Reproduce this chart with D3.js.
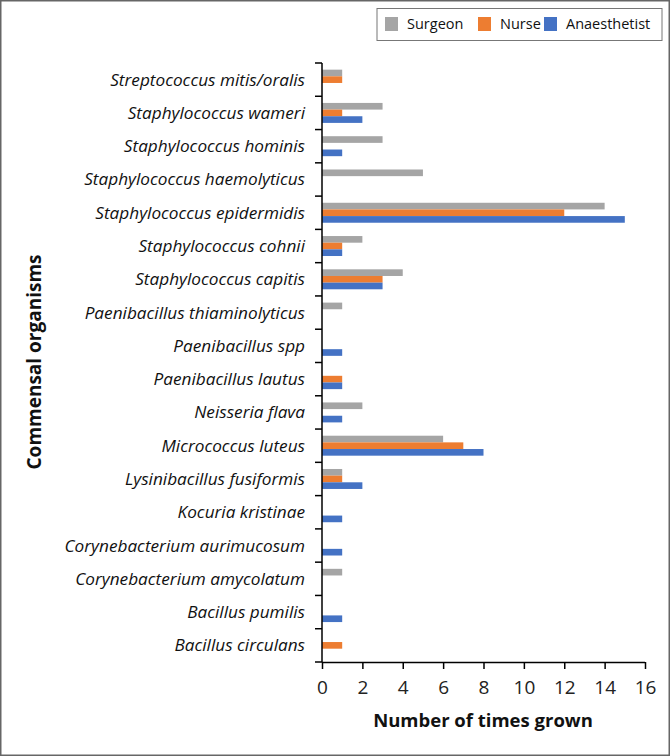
<!DOCTYPE html>
<html><head><meta charset="utf-8">
<script src="https://cdn.jsdelivr.net/npm/d3@7"></script>
<style>body{margin:0;background:#fff}svg{display:block}text{font-family:"Open Sans",sans-serif}</style>
</head><body><svg id="c" width="670" height="756"></svg>
<script>
const categories = ["Streptococcus mitis/oralis","Staphylococcus wameri","Staphylococcus hominis","Staphylococcus haemolyticus","Staphylococcus epidermidis","Staphylococcus cohnii","Staphylococcus capitis","Paenibacillus thiaminolyticus","Paenibacillus spp","Paenibacillus lautus","Neisseria flava","Micrococcus luteus","Lysinibacillus fusiformis","Kocuria kristinae","Corynebacterium aurimucosum","Corynebacterium amycolatum","Bacillus pumilis","Bacillus circulans"];
const surgeon =      [1,3,3,5,14,2,4,1,0,0,2,6,1,0,0,1,0,0];
const nurse =        [1,1,0,0,12,1,3,0,0,1,0,7,1,0,0,0,0,1];
const anaesthetist = [0,2,1,0,15,1,3,0,1,1,1,8,2,1,1,0,1,0];
const seriesNames = ["Surgeon","Nurse","Anaesthetist"];
const seriesColors = ["#A5A5A5","#ED7D31","#4472C4"];
const xTicks = [0,2,4,6,8,10,12,14,16];

(function(){
const svg = d3.select("#c");
svg.append("rect").attr("x",0.75).attr("y",0.75).attr("width",668.5).attr("height",754.5)
  .attr("fill","#fff").attr("stroke","#666").attr("stroke-width",1.5);

const mL = 322, mR = 645, mT = 63, mB = 662;
const x = d3.scaleLinear().domain([0,16]).range([mL,mR]);
const y = d3.scaleBand().domain(categories).range([mT,mB]).paddingInner(0.4).paddingOuter(0.2);
const inner = d3.scaleBand().domain(seriesNames).range([0,y.bandwidth()]);
const series = [surgeon, nurse, anaesthetist];

const g = svg.append("g");
series.forEach((vals,si)=>{
  g.selectAll(null).data(vals.map((v,i)=>({v,c:categories[i]}))).enter().append("rect")
    .attr("x",x(0)).attr("y",d=>y(d.c)+inner(seriesNames[si]))
    .attr("width",d=>x(d.v)-x(0)).attr("height",inner.bandwidth())
    .attr("fill",seriesColors[si]);
});

// y axis
const yBand = d3.scaleBand().domain(categories).range([mT,mB]);
const ya = svg.append("g").attr("transform",`translate(${mL},0)`);
ya.append("line").attr("x1",0).attr("x2",0).attr("y1",mT).attr("y2",mB).attr("stroke","#000").attr("stroke-width",1.5);
const tickYs = categories.map(c=>yBand(c)).concat([mB]);
ya.selectAll(null).data(tickYs).enter().append("line")
  .attr("x1",-7).attr("x2",0).attr("y1",d=>d).attr("y2",d=>d).attr("stroke","#000").attr("stroke-width",1.5);
ya.selectAll(null).data(categories).enter().append("text")
  .attr("x",-17).attr("y",d=>yBand(d)+yBand.bandwidth()/2).attr("dy","0.35em")
  .attr("text-anchor","end").attr("font-style","italic").attr("font-size",17.2).attr("fill","#111").text(d=>d);

// x axis
const xa = svg.append("g").attr("transform",`translate(0,${mB})`)
  .call(d3.axisBottom(x).tickValues(xTicks).tickSize(7).tickPadding(12).tickFormat(d3.format("d")));
xa.select(".domain").attr("stroke","#000").attr("stroke-width",1.5).attr("d",`M${mL},0.5H${mR}`);
xa.selectAll(".tick line").attr("stroke","#000").attr("stroke-width",1.5);
xa.selectAll(".tick text").attr("font-size",19).attr("fill","#222").attr("font-family","'Open Sans',sans-serif");

svg.append("text").attr("x",483).attr("y",727).attr("text-anchor","middle")
  .attr("font-weight","bold").attr("font-size",18.5).attr("fill","#111").text("Number of times grown");
svg.append("text").attr("transform","translate(41,362) rotate(-90)").attr("text-anchor","middle")
  .attr("font-weight","bold").attr("font-size",19).attr("fill","#111").text("Commensal organisms");

// legend
const lg = svg.append("g");
lg.append("rect").attr("x",377).attr("y",8.5).attr("width",285).attr("height",32).attr("fill","#fff").attr("stroke","#777").attr("stroke-width",1);
const lx = [385,478,544];
seriesNames.forEach((n,i)=>{
  lg.append("rect").attr("x",lx[i]).attr("y",17).attr("width",13).attr("height",14).attr("fill",seriesColors[i]);
  lg.append("text").attr("x",lx[i]+22).attr("y",24).attr("dy","0.35em").attr("font-size",14.5).attr("fill","#111").text(n);
});
})();
</script></body></html>
